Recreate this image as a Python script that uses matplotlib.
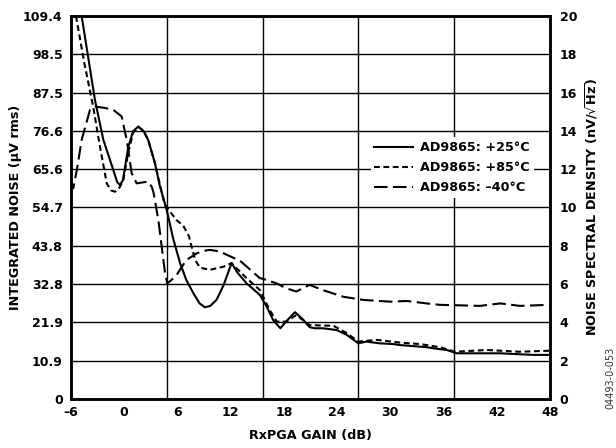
import numpy as np
import matplotlib
matplotlib.use("Agg")
import matplotlib.pyplot as plt

# ---- data (RxPGA gain in dB, integrated noise in uV rms) ----
gain_25 = [-4.8, -3.3, -2.35, -1.23, -0.8, -0.48, -0.15, 0.46, 1.0, 1.59, 2.2, 2.7, 3.47,
           4.0, 4.79, 5.5, 6.3, 7.0, 7.8, 8.5, 9.1, 9.7, 10.4, 11.2, 12.1, 12.8, 13.8,
           14.5, 15.3, 16.06, 16.8, 17.6, 18.3, 19.25, 20.2, 20.9, 21.5, 22.4, 23.95,
           25.1, 26.4, 27.3, 28.8, 30.3, 31.1, 34.1, 34.8, 36.35, 37.5, 42.4, 46.1, 48.0]
noise_25 = [109.4, 85.4, 74.0, 65.4, 62.0, 61.1, 62.5, 72.0, 76.5, 77.8, 76.5, 74.0, 67.3,
            61.0, 54.0, 46.0, 38.8, 34.0, 30.2, 27.3, 26.2, 26.6, 28.3, 32.5, 38.8, 36.0, 33.0,
            31.5, 29.7, 26.4, 22.5, 20.2, 22.3, 24.8, 22.6, 20.5, 20.2, 20.2, 19.7,
            18.3, 15.9, 16.4, 15.9, 15.7, 15.4, 14.8, 14.5, 14.0, 13.05, 13.05, 12.6, 12.6]

gain_85 = [-5.44, -4.5, -3.5, -2.73, -1.97, -1.5, -1.04, -0.5, -0.1, 0.46, 1.0, 1.59, 2.2,
           2.7, 3.47, 4.0, 4.57, 5.9, 6.66, 7.3, 7.6, 8.0, 8.54, 9.67, 11.2, 12.1, 13.8,
           15.3, 16.4, 17.2, 18.3, 19.4, 20.9, 23.6, 25.1, 26.4, 28.5, 31.1, 33.35, 35.6,
           37.3, 40.9, 44.6, 48.0]
noise_85 = [109.4, 96.0, 83.5, 72.0, 61.6, 59.6, 59.2, 60.5, 62.6, 70.5, 76.0, 77.8, 76.5,
            74.0, 67.3, 61.5, 55.5, 51.1, 49.5, 46.5, 43.5, 39.7, 37.5, 36.9, 37.8, 38.8, 34.5,
            31.1, 25.4, 22.1, 22.1, 24.0, 21.1, 20.9, 18.8, 16.4, 16.9, 16.1, 15.7, 14.8,
            13.5, 14.0, 13.5, 13.8]

gain_m40 = [-6.0, -5.74, -5.3, -4.8, -3.86, -3.3, -2.3, -1.23, -0.29, 0.28, 0.84, 1.4, 2.7,
            3.1, 3.3, 3.85, 4.3, 4.6, 4.85, 5.8, 7.0, 8.17, 8.9, 9.67, 10.4, 11.2, 13.05,
            15.3, 15.7, 17.2, 18.3, 19.4, 20.9, 22.4, 24.7, 26.96, 30.0, 31.85, 34.1, 35.6,
            40.1, 42.4, 44.6, 48.0]
noise_m40 = [62.6, 60.2, 66.0, 74.0, 82.6, 83.5, 83.2, 82.6, 80.7, 74.0, 64.5, 61.6, 62.1,
             60.6, 59.0, 51.1, 42.0, 36.0, 33.0, 35.0, 39.7, 41.6, 42.3, 42.6, 42.3, 41.6, 39.5,
             34.5, 34.3, 33.0, 31.6, 30.7, 32.6, 31.1, 29.2, 28.3, 27.8, 28.0, 27.3, 26.9,
             26.6, 27.3, 26.6, 26.9]

labels = ["AD9865: +25°C", "AD9865: +85°C", "AD9865: \u201340°C"]

x_ticks = [-6, 0, 6, 12, 18, 24, 30, 36, 42, 48]
x_ticklabels = ["\u20136", "0", "6", "12", "18", "24", "30", "36", "42", "48"]
left_ticklabels = ["0", "10.9", "21.9", "32.8", "43.8", "54.7", "65.6", "76.6",
                   "87.5", "98.5", "109.4"]
right_ticks = [0, 2, 4, 6, 8, 10, 12, 14, 16, 18, 20]

# ---- figure ----
plt.rcParams['font.family'] = ['DejaVu Sans']
plt.rcParams['mathtext.fontset'] = 'dejavusans'

fig = plt.figure(figsize=(6.16, 4.48), dpi=100)
ax = fig.add_axes([71/616, 49/448, 479/616, 383/448])
ax2 = ax.twinx()

lw = 1.5
ax.plot(gain_25, noise_25, color='black', lw=lw, solid_joinstyle='round',
        label=labels[0], zorder=3)
ax.plot(gain_85, noise_85, color='black', lw=lw, dashes=(2.8, 1.7),
        label=labels[1], zorder=3)
ax.plot(gain_m40, noise_m40, color='black', lw=lw, dashes=(6.5, 2.6),
        label=labels[2], zorder=3)

ax.set_xlim(-6, 48)
ax.set_ylim(0, 109.4)
ax2.set_ylim(0, 20)

ax.set_xticks(x_ticks)
ax.set_xticklabels(x_ticklabels)
ax.set_xticks(np.linspace(-6, 48, 6)[1:-1], minor=True)
ax.set_yticks(np.linspace(0, 109.4, 11))
ax.set_yticklabels(left_ticklabels)
ax2.set_yticks(right_ticks)
ax2.set_yticklabels([str(v) for v in right_ticks])

ax.grid(False)
ax.grid(True, which='minor', axis='x', color='black', lw=1.0)
ax.grid(True, which='major', axis='y', color='black', lw=1.0)
ax.set_axisbelow(True)

for a in (ax, ax2):
    a.tick_params(which='both', length=0)
    for s in a.spines.values():
        s.set_linewidth(1.8)
        s.set_color('black')

ax.tick_params(axis='x', pad=5, labelsize=9)
ax.tick_params(axis='y', pad=6, labelsize=9)
ax2.tick_params(axis='y', pad=7, labelsize=9)
for t in ax.get_xticklabels() + ax.get_yticklabels() + ax2.get_yticklabels():
    t.set_fontweight('bold')

ax.set_xlabel("RxPGA GAIN (dB)", fontsize=9.2, fontweight='bold', labelpad=7)
ax.set_ylabel("INTEGRATED NOISE (µV rms)", fontsize=9.2, fontweight='bold', labelpad=1)
ax2.set_ylabel(r"NOISE SPECTRAL DENSITY (nV/$\mathbf{\sqrt{Hz}}$)", fontsize=9.2,
               fontweight='bold', labelpad=4)

leg = ax.legend(loc='center', bbox_to_anchor=(0.796, 0.604), frameon=True,
                fancybox=False, edgecolor='none', facecolor='white', framealpha=1,
                prop={'weight': 'bold', 'size': 9.2}, handlelength=3.0,
                handletextpad=0.6, labelspacing=0.55, borderpad=0.3,
                borderaxespad=0)
leg.set_zorder(10)

fig.text(610/616, 1 - 378/448, "04493-0-053", rotation=90, fontsize=7,
         ha='center', va='center', color='#333333')

fig.savefig("out.png", dpi=100)
